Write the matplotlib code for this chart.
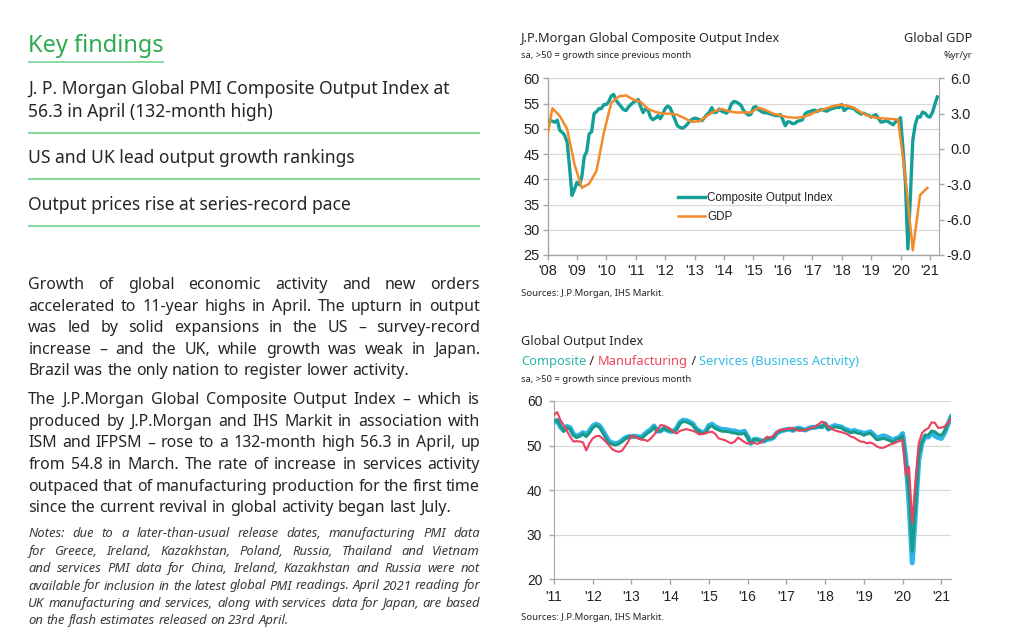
import matplotlib
matplotlib.use('Agg')
import matplotlib.pyplot as plt
from matplotlib.lines import Line2D
import numpy as np
import pandas as pd

# ---------------- data ----------------
# J.P.Morgan Global Composite Output Index, monthly Jan 2008 - Apr 2021
composite_pmi = [
    50.0, 51.7, 51.5, 51.3, 51.7, 49.7, 49.3, 48.7, 47.4, 42.4, 36.8, 38.0,   # 2008
    39.4, 38.9, 40.5, 44.5, 45.5, 49.0, 49.4, 53.0, 53.4, 54.0, 54.0, 54.8,   # 2009
    54.8, 55.4, 56.5, 56.8, 55.6, 55.0, 54.4, 53.8, 53.6, 54.3, 54.8, 55.2,   # 2010
    55.5, 55.8, 54.4, 53.2, 54.0, 53.7, 52.3, 51.8, 52.1, 52.6, 52.0, 52.9,   # 2011
    54.0, 54.5, 54.2, 53.0, 51.8, 50.6, 50.3, 50.1, 50.4, 50.9, 51.5, 51.9,   # 2012
    52.1, 52.0, 51.8, 51.6, 52.2, 52.8, 53.3, 54.2, 53.2, 53.3, 53.9, 53.5,   # 2013
    53.3, 53.1, 53.6, 54.9, 55.4, 55.3, 55.0, 54.6, 53.6, 53.1, 52.7, 52.9,   # 2014
    54.2, 54.4, 53.8, 53.5, 53.2, 53.2, 53.1, 52.9, 52.8, 52.6, 52.6, 52.8,   # 2015
    51.8, 50.6, 51.4, 51.3, 51.0, 51.1, 51.5, 51.6, 51.8, 52.9, 53.3, 53.4,   # 2016
    53.6, 53.7, 53.4, 53.7, 53.8, 53.6, 53.5, 53.8, 54.0, 54.1, 54.3, 54.2,   # 2017
    54.8, 53.6, 54.0, 54.2, 54.1, 54.0, 53.5, 53.2, 52.9, 53.1, 52.8, 52.7,   # 2018
    52.3, 52.6, 52.8, 52.1, 51.3, 51.4, 51.6, 51.4, 51.1, 50.8, 51.4, 51.6,   # 2019
    52.2, 46.1, 39.4, 26.2, 36.3, 47.7, 50.8, 52.4, 52.3, 53.3, 53.1, 52.5,   # 2020
    52.3, 53.2, 54.8, 56.3,                                                   # 2021
]
composite_start = '2008-01'

# Global GDP, %yr/yr (quarterly)
gdp_dates = ['2008-01', '2008-03', '2008-06', '2008-09', '2008-12',
             '2009-03', '2009-06', '2009-09', '2009-12',
             '2010-03', '2010-06', '2010-09', '2010-12',
             '2011-03', '2011-06', '2011-09', '2011-12',
             '2012-03', '2012-06', '2012-09', '2012-12',
             '2013-03', '2013-06', '2013-09', '2013-12',
             '2014-03', '2014-06', '2014-09', '2014-12',
             '2015-03', '2015-06', '2015-09', '2015-12',
             '2016-03', '2016-06', '2016-09', '2016-12',
             '2017-03', '2017-06', '2017-09', '2017-12',
             '2018-03', '2018-06', '2018-09', '2018-12',
             '2019-03', '2019-06', '2019-09', '2019-12',
             '2020-03', '2020-06', '2020-09', '2020-12']
gdp_yoy = [1.2, 3.45, 2.8, 1.7, -1.3,
           -3.3, -2.95, -1.85, 1.4,
           3.9, 4.45, 4.55, 4.2,
           4.0, 3.4, 3.15, 3.0,
           3.0, 2.9, 2.6, 2.3,
           2.35, 2.8, 3.2, 3.4,
           3.2, 3.1, 3.1, 3.1,
           3.5, 3.3, 3.0, 2.85,
           2.7, 2.65, 2.7, 2.9,
           3.2, 3.4, 3.6, 3.75,
           3.7, 3.5, 3.1, 2.8,
           2.65, 2.6, 2.55, 2.5,
           -2.4, -8.6, -3.9, -3.3]

# Global Output Index by sector, monthly Jan 2011 - Apr 2021
sector_start = '2011-01'
services_activity = [
    55.2, 55.6, 54.2, 53.4, 54.3, 54.0, 52.6, 52.1, 52.4, 52.9, 52.4, 53.3,   # 2011
    54.4, 54.8, 54.5, 53.5, 52.2, 51.0, 50.6, 50.4, 50.6, 51.1, 51.7, 52.0,   # 2012
    52.0, 52.1, 52.0, 51.8, 52.5, 53.1, 53.6, 54.4, 53.2, 53.3, 53.8, 53.5,   # 2013
    53.2, 53.2, 53.9, 55.2, 55.7, 55.6, 55.3, 54.9, 53.8, 53.3, 52.9, 53.2,   # 2014
    54.5, 54.8, 54.2, 53.9, 53.6, 53.6, 53.5, 53.3, 53.3, 53.0, 53.0, 53.2,   # 2015
    52.0, 50.5, 51.4, 51.4, 51.1, 51.0, 51.4, 51.5, 51.8, 52.8, 53.2, 53.4,   # 2016
    53.6, 53.7, 53.4, 53.8, 53.9, 53.6, 53.5, 53.9, 54.1, 54.1, 54.3, 54.2,   # 2017
    54.9, 53.7, 54.2, 54.5, 54.3, 54.2, 53.7, 53.5, 53.1, 53.4, 53.1, 53.0,   # 2018
    52.7, 52.9, 53.1, 52.5, 51.7, 51.9, 52.2, 52.0, 51.6, 51.2, 51.6, 51.8,   # 2019
    52.7, 47.1, 37.0, 23.7, 35.1, 46.7, 50.5, 52.1, 51.9, 52.9, 52.2, 51.8,   # 2020
    51.6, 52.8, 54.7, 56.4,                                                   # 2021
]
manufacturing_output = [
    56.9, 57.5, 55.7, 54.6, 53.3, 52.0, 50.9, 51.0, 50.9, 50.7, 48.9, 50.5,   # 2011
    51.6, 52.1, 52.2, 51.6, 50.9, 50.1, 49.2, 48.8, 48.6, 48.8, 49.8, 50.9,   # 2012
    52.2, 52.0, 51.6, 51.3, 51.3, 51.0, 51.6, 52.4, 53.5, 54.6, 54.5, 54.2,   # 2013
    53.8, 53.1, 52.7, 53.3, 53.5, 53.7, 53.5, 53.3, 53.0, 52.5, 52.6, 52.8,   # 2014
    53.0, 53.1, 52.6, 51.6, 51.4, 51.2, 50.8, 50.5, 50.9, 51.8, 51.3, 50.8,   # 2015
    50.4, 50.7, 50.6, 50.4, 50.6, 51.3, 52.0, 51.8, 52.2, 53.0, 53.5, 53.6,   # 2016
    53.7, 53.8, 54.0, 53.5, 53.3, 53.4, 53.5, 53.8, 54.0, 54.3, 54.8, 55.4,   # 2017
    55.0, 54.2, 53.8, 53.4, 53.2, 53.0, 52.8, 52.5, 52.0, 51.8, 51.3, 50.9,   # 2018
    50.8, 50.5, 50.7, 50.4, 49.8, 49.5, 49.5, 49.8, 50.2, 50.4, 50.7, 51.0,   # 2019
    51.3, 43.4, 45.2, 32.6, 42.3, 50.5, 52.8, 53.5, 53.9, 55.2, 55.1, 54.0,   # 2020
    54.0, 54.3, 55.0, 56.0,                                                   # 2021
]

top_year_labels = ["'08", "'09", "'10", "'11", "'12", "'13", "'14", "'15",
                   "'16", "'17", "'18", "'19", "'20", "'21"]
bottom_year_labels = ["'11", "'12", "'13", "'14", "'15", "'16", "'17", "'18",
                      "'19", "'20", "'21"]
left_ticks_top = [25, 30, 35, 40, 45, 50, 55, 60]
right_ticks_top = [-9, -6, -3, 0, 3, 6]
left_ticks_bottom = [20, 30, 40, 50, 60]

key_findings = ["J. P. Morgan Global PMI Composite Output Index at\n56.3 in April (132-month high)",
                "US and UK lead output growth rankings",
                "Output prices rise at series-record pace"]
para1 = ["Growth of global economic activity and new orders",
         "accelerated to 11-year highs in April. The upturn in output",
         "was led by solid expansions in the US \u2013 survey-record",
         "increase \u2013 and the UK, while growth was weak in Japan.",
         "Brazil was the only nation to register lower activity."]
para2 = ["The J.P.Morgan Global Composite Output Index \u2013 which is",
         "produced by J.P.Morgan and IHS Markit in association with",
         "ISM and IFPSM \u2013 rose to a 132-month high 56.3 in April, up",
         "from 54.8 in March. The rate of increase in services activity",
         "outpaced that of manufacturing production for the first time",
         "since the current revival in global activity began last July."]
notes = ["Notes: due to a later-than-usual release dates, manufacturing PMI data",
         "for Greece, Ireland, Kazakhstan, Poland, Russia, Thailand and Vietnam",
         "and services PMI data for China, Ireland, Kazakhstan and Russia were not",
         "available for inclusion in the latest global PMI readings. April 2021 reading for",
         "UK manufacturing and services, along with services data for Japan, are based",
         "on the flash estimates released on 23rd April."]

# ---------------- figure ----------------
W, H = 1024, 638
fig = plt.figure(figsize=(W / 100, H / 100), dpi=100)
fig.patch.set_facecolor('white')
bg = fig.add_axes([0, 0, 1, 1])
bg.set_xlim(0, W)
bg.set_ylim(H, 0)
bg.axis('off')
renderer = fig.canvas.get_renderer()

BODY = 'Noto Sans'
ARIAL = 'Liberation Sans'
TXT = '#262626'
GREEN = '#2eab4f'
LGREEN = '#8ad9a2'


def text_w(s, size, **kw):
    t = bg.text(0, 0, s, fontsize=size, **kw)
    w = t.get_window_extent(renderer).width
    t.remove()
    return w


def fit(s, target, **kw):
    return 10.0 * target / text_w(s, 10.0, **kw)


def justify(lines, x0, x1, y0, dy, size, **kw):
    space = text_w('a a', size, **kw) - text_w('aa', size, **kw)
    for i, line in enumerate(lines):
        y = y0 + i * dy
        words = line.split(' ')
        ws = [text_w(w, size, **kw) for w in words]
        if i == len(lines) - 1:
            gap = space
        else:
            gap = (x1 - x0 - sum(ws)) / (len(words) - 1)
        x = x0
        for w, wd in zip(words, ws):
            bg.text(x, y, w, fontsize=size, va='baseline', ha='left', **kw)
            x += wd + gap


def px(x, y):
    return x / W, 1 - y / H


# ---------------- left panel ----------------
LX, RX = 28.3, 480
kf_size = fit('Key findings', 135.7, family=BODY)
bg.text(LX, 51.7, 'Key findings', fontsize=kf_size, family=BODY, color=GREEN, va='baseline')
bg.plot([LX, 163.7], [61.7, 61.7], color=LGREEN, lw=1.4, solid_capstyle='butt')

b_size = fit(key_findings[1], 325.7, family=BODY)
l1, l2 = key_findings[0].split('\n')
bg.text(LX, 94.0, l1, fontsize=b_size, family=BODY, color=TXT, va='baseline')
bg.text(LX, 117.3, l2, fontsize=b_size, family=BODY, color=TXT, va='baseline')
bg.text(LX, 163.3, key_findings[1], fontsize=b_size, family=BODY, color=TXT, va='baseline')
bg.text(LX, 210.0, key_findings[2], fontsize=b_size, family=BODY, color=TXT, va='baseline')
for yy in (132.7, 179.3, 226.0):
    bg.plot([LX, RX], [yy, yy], color=LGREEN, lw=1.5, solid_capstyle='butt')

p_size = fit(para1[-1], 381.0, family=BODY)
justify(para1, LX, RX, 289.3, 21.45, p_size, family=BODY, color=TXT)
justify(para2, LX, RX, 404.0, 21.7, p_size, family=BODY, color=TXT)
n_size = fit(notes[-1], 261.0, family=BODY, style='italic')
justify(notes, LX, RX, 537.3, 17.4, n_size, family=BODY, style='italic', color='#3a3a3a')

# ---------------- chart 1 ----------------
t_size = fit('J.P.Morgan Global Composite Output Index', 258.3, family=BODY)
s_size = fit('sa, >50 = growth since previous month', 171.0, family=BODY)
src_size = fit('Sources: J.P.Morgan, IHS Markit.', 144.0, family=BODY)

bg.text(521, 42.3, 'J.P.Morgan Global Composite Output Index', fontsize=t_size, family=BODY,
        color=TXT, va='baseline')
bg.text(972.5, 42.3, 'Global GDP', fontsize=t_size, family=BODY, color=TXT, va='baseline', ha='right')
bg.text(521, 58.3, 'sa, >50 = growth since previous month', fontsize=s_size, family=BODY,
        color=TXT, va='baseline')
bg.text(972.5, 58.3, '%yr/yr', fontsize=s_size, family=BODY, color=TXT, va='baseline', ha='right')
bg.text(521, 296.0, 'Sources: J.P.Morgan, IHS Markit.', fontsize=src_size, family=BODY,
        color=TXT, va='baseline')

x_top = np.arange(len(composite_pmi))
p0 = pd.Period(composite_start, freq='M')
x_gdp = np.array([(pd.Period(d, freq='M') - p0).n for d in gdp_dates])

L1, R1, T1, B1 = 547.5, 939.0, 78.3, 255.0
ax1 = fig.add_axes([L1 / W, 1 - B1 / H, (R1 - L1) / W, (B1 - T1) / H])
ax1.set_facecolor('none')
TEAL = '#149e98'
ORANGE = '#f58a2a'
ax1.plot(x_top, composite_pmi, color=TEAL, lw=2.4, solid_joinstyle='round', zorder=3)
ax1.set_xlim(0, 159.7)
ax1.set_ylim(25, 60)
ax1.set_yticks(left_ticks_top)
ax1.set_xticks(np.arange(len(top_year_labels)) * 12)
ax1.set_xticklabels(top_year_labels)
ax1.grid(axis='y', color='#d9d9d9', lw=0.9)
ax1.set_axisbelow(True)
for s in ('top', 'right'):
    ax1.spines[s].set_visible(False)
for s in ('left', 'bottom'):
    ax1.spines[s].set_color('#a6a6a6')
    ax1.spines[s].set_linewidth(1.0)
tick_fs = fit("'08", 19.0, family=ARIAL)
ax1.tick_params(axis='both', direction='out', length=3.5, width=1.0, color='#a6a6a6',
                labelsize=tick_fs, labelcolor='#222222')
ax1.tick_params(axis='y', pad=2.0)
ax1.tick_params(axis='x', pad=3.0)
for lab in ax1.get_xticklabels() + ax1.get_yticklabels():
    lab.set_family(ARIAL)

ax1b = ax1.twinx()
ax1b.plot(x_gdp, gdp_yoy, color=ORANGE, lw=1.8, zorder=4)
ax1b.set_ylim(-9, 6)
ax1b.set_yticks(right_ticks_top)
ax1b.set_yticklabels([f'{v:.1f}' for v in right_ticks_top])
for s in ('top', 'left', 'bottom'):
    ax1b.spines[s].set_visible(False)
ax1b.spines['right'].set_color('#a6a6a6')
ax1b.tick_params(axis='y', direction='out', length=3.5, width=1.0, color='#a6a6a6',
                 labelsize=tick_fs, labelcolor='#222222', pad=19.5)
for lab in ax1b.get_yticklabels():
    lab.set_family(ARIAL)
    lab.set_horizontalalignment('right')

leg_fs = fit('Composite Output Index', 125.0, family=ARIAL)
leg_px = leg_fs * 100 / 72
handles = [Line2D([], [], color=TEAL, lw=2.4), Line2D([], [], color=ORANGE, lw=1.8)]
leg = fig.legend(handles, ['Composite Output Index', 'GDP'], loc='center left',
                 bbox_to_anchor=px(678, 207.7), frameon=False,
                 prop={'family': ARIAL, 'size': leg_fs},
                 handlelength=27 / leg_px, handletextpad=2 / leg_px,
                 borderpad=0, borderaxespad=0, labelspacing=(20 - 1.15 * leg_px) / leg_px)
for t in leg.get_texts():
    t.set_color('#222222')

# ---------------- chart 2 ----------------
bg.text(521, 345.0, 'Global Output Index', fontsize=t_size, family=BODY, color=TXT, va='baseline')
parts = [('Composite', '#2ab5a7'), (' / ', TXT), ('Manufacturing', '#ec4561'), (' / ', TXT),
         ('Services (Business Activity)', '#33bbe6')]
full = ''.join(p for p, _ in parts)
c_size = fit(full, 336.7, family=BODY)
xx = 521.0
for s, c in parts:
    bg.text(xx, 365.0, s, fontsize=c_size, family=BODY, color=c, va='baseline')
    xx += text_w(s, c_size, family=BODY)
bg.text(521, 381.7, 'sa, >50 = growth since previous month', fontsize=s_size, family=BODY,
        color=TXT, va='baseline')
bg.text(521, 620.0, 'Sources: J.P.Morgan, IHS Markit.', fontsize=src_size, family=BODY,
        color=TXT, va='baseline')

p_sec = pd.Period(sector_start, freq='M')
offset = (p_sec - p0).n
composite_sec = composite_pmi[offset:]
x_sec = np.arange(len(services_activity))

L2, R2, T2, B2 = 554.0, 951.0, 401.0, 579.3
ax2 = fig.add_axes([L2 / W, 1 - B2 / H, (R2 - L2) / W, (B2 - T2) / H])
ax2.set_facecolor('none')
ax2.plot(x_sec, services_activity, color='#2cb6e8', lw=3.6, solid_joinstyle='round', zorder=3)
ax2.plot(x_sec, composite_sec, color='#1b9a86', lw=2.1, solid_joinstyle='round', zorder=4)
ax2.plot(x_sec, manufacturing_output, color='#ee3f5e', lw=1.5, solid_joinstyle='round', zorder=5)
ax2.set_xlim(0, len(services_activity) - 1)
ax2.set_ylim(20, 60)
ax2.set_yticks(left_ticks_bottom)
ax2.set_xticks(np.arange(len(bottom_year_labels)) * 12)
ax2.set_xticklabels(bottom_year_labels)
ax2.grid(axis='y', color='#d9d9d9', lw=0.9)
ax2.set_axisbelow(True)
for s in ('top', 'right'):
    ax2.spines[s].set_visible(False)
for s in ('left', 'bottom'):
    ax2.spines[s].set_color('#a6a6a6')
tick_fs2 = fit("'11", 16.7, family=ARIAL)
ax2.tick_params(axis='both', direction='out', length=3.5, width=1.0, color='#a6a6a6',
                labelsize=tick_fs2, labelcolor='#222222')
ax2.tick_params(axis='y', pad=5.0)
ax2.tick_params(axis='x', pad=4.0)
for lab in ax2.get_xticklabels() + ax2.get_yticklabels():
    lab.set_family(ARIAL)

fig.savefig('out.png', dpi=100)
